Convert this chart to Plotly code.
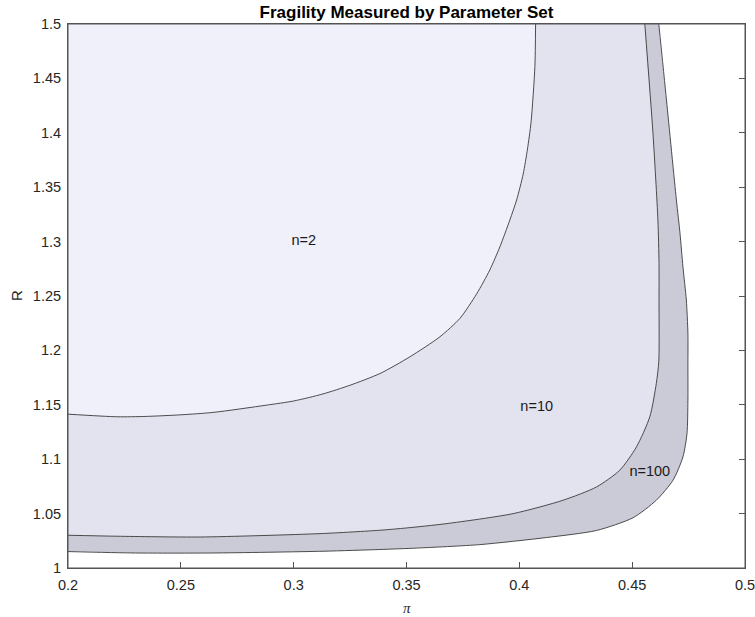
import plotly.graph_objects as go

# Contour level curves (pi, R)
n2_pi = [0.2, 0.2218, 0.2342, 0.25, 0.2643, 0.288, 0.3, 0.313, 0.325, 0.3383, 0.3515,
         0.3648, 0.3737, 0.3811, 0.3869, 0.3914, 0.3958, 0.3988, 0.4017, 0.4036, 0.4052,
         0.4069, 0.4072]
n2_R = [1.1414, 1.139, 1.1393, 1.1408, 1.143, 1.1497, 1.1535, 1.160, 1.168, 1.1788, 1.1941,
        1.2125, 1.2295, 1.252, 1.2739, 1.2953, 1.3199, 1.3383, 1.362, 1.385, 1.41,
        1.461, 1.5]

n10_pi = [0.2, 0.2218, 0.2586, 0.3117, 0.3382, 0.35, 0.3678, 0.3973, 0.4194, 0.4342,
          0.4445, 0.4519, 0.4578, 0.4607, 0.4618, 0.4619, 0.4619, 0.4614, 0.4592, 0.4556]
n10_R = [1.0301, 1.0292, 1.0285, 1.0316, 1.0347, 1.0368, 1.0408, 1.05, 1.0623, 1.0745,
         1.0899, 1.1113, 1.1389, 1.1696, 1.19, 1.2463, 1.28, 1.32, 1.40, 1.5]

n100_pi = [0.2, 0.2299, 0.2643, 0.313, 0.3382, 0.3545, 0.3825, 0.412, 0.4342, 0.4504,
           0.4607, 0.4681, 0.4725, 0.4743, 0.4747, 0.4747, 0.4747, 0.474, 0.4725, 0.4712,
           0.4696, 0.4652, 0.4618]
n100_R = [1.0151, 1.0138, 1.0138, 1.0154, 1.0170, 1.0183, 1.0215, 1.0280, 1.0345, 1.0462,
          1.0623, 1.0807, 1.1021, 1.1236, 1.1543, 1.1849, 1.2157, 1.2463, 1.2769, 1.3076,
          1.3382, 1.4302, 1.5]

levels = ["n=2", "n=10", "n=100"]
label_pi = [0.3045, 0.4077, 0.4578]
label_R = [1.3, 1.148, 1.0883]

x_ticks = [0.2, 0.25, 0.3, 0.35, 0.4, 0.45, 0.5]
x_ticktext = ["0.2", "0.25", "0.3", "0.35", "0.4", "0.45", "0.5"]
y_ticks = [1.0, 1.05, 1.1, 1.15, 1.2, 1.25, 1.3, 1.35, 1.4, 1.45, 1.5]
y_ticktext = ["1", "1.05", "1.1", "1.15", "1.2", "1.25", "1.3", "1.35", "1.4", "1.45", "1.5"]

fills = {"n=100": "#CBCBD7", "n=10": "#E3E3F0", "n=2": "#F0F0FB"}
curves = {"n=2": (n2_pi, n2_R), "n=10": (n10_pi, n10_R), "n=100": (n100_pi, n100_R)}
SMOOTH = 0.7

fig = go.Figure()

# filled regions, outermost first (closing corners placed outside the visible box)
for lev in ["n=100", "n=10", "n=2"]:
    px, py = curves[lev]
    fig.add_trace(go.Scatter(
        x=list(px) + [px[-1], 0.15, 0.15, px[0]],
        y=list(py) + [1.56, 1.56, py[0], py[0]],
        mode="lines", fill="toself", fillcolor=fills[lev],
        line=dict(width=0, shape="spline", smoothing=SMOOTH),
        hoverinfo="skip", showlegend=False))

for lev in ["n=100", "n=10", "n=2"]:
    px, py = curves[lev]
    fig.add_trace(go.Scatter(
        x=px, y=py, mode="lines",
        line=dict(color="#3a3a3a", width=0.9, shape="spline", smoothing=SMOOTH),
        hoverinfo="skip", showlegend=False))

fig.add_trace(go.Scatter(
    x=label_pi, y=label_R, mode="text", text=levels,
    textfont=dict(family="Liberation Sans, Arial, sans-serif", size=14.5, color="#1a1a1a"),
    hoverinfo="skip", showlegend=False))

axis_common = dict(
    showgrid=False, zeroline=False, ticks="inside", ticklen=6, tickwidth=1,
    tickcolor="#555555", mirror="ticks", showline=True, linecolor="#555555",
    linewidth=1, layer="below traces", automargin=False, ticklabeloverflow="allow",
    tickfont=dict(family="Liberation Sans, Arial, sans-serif", size=14.5, color="#262626"),
)

fig.update_layout(
    width=755, height=617,
    margin=dict(l=68, r=10, t=24, b=49),
    paper_bgcolor="white", plot_bgcolor="white",
    title=dict(text="<b>Fragility Measured by Parameter Set</b>",
               x=0.5, xref="paper", y=1 - 12 / 617, yref="container",
               xanchor="center", yanchor="middle",
               font=dict(family="Liberation Sans, Arial, sans-serif", size=17, color="#000000")),
    xaxis=dict(range=[0.2, 0.5], tickvals=x_ticks, ticktext=x_ticktext,
               ticklabelstandoff=4, **axis_common),
    yaxis=dict(range=[1.0, 1.5], tickvals=y_ticks, ticktext=y_ticktext,
               ticklabelstandoff=3, **axis_common),
    shapes=[dict(type="rect", xref="paper", yref="paper", x0=0, y0=0, x1=1, y1=1,
                 line=dict(color="#555555", width=1), layer="above")],
    annotations=[
        dict(text="<i>π</i>", xref="paper", yref="paper", x=0.5, y=-40 / 544, showarrow=False,
             xanchor="center", yanchor="middle",
             font=dict(family="Liberation Serif, Times New Roman, serif", size=15, color="#262626")),
        dict(text="R", xref="paper", yref="paper", x=-52 / 677, y=0.5, showarrow=False,
             textangle=-90, xanchor="center", yanchor="middle",
             font=dict(family="Liberation Sans, Arial, sans-serif", size=15, color="#262626")),
    ],
)

fig.write_html("out.html", config={"displayModeBar": False},
               post_script="document.body.style.margin='0';document.body.style.overflow='hidden';")
